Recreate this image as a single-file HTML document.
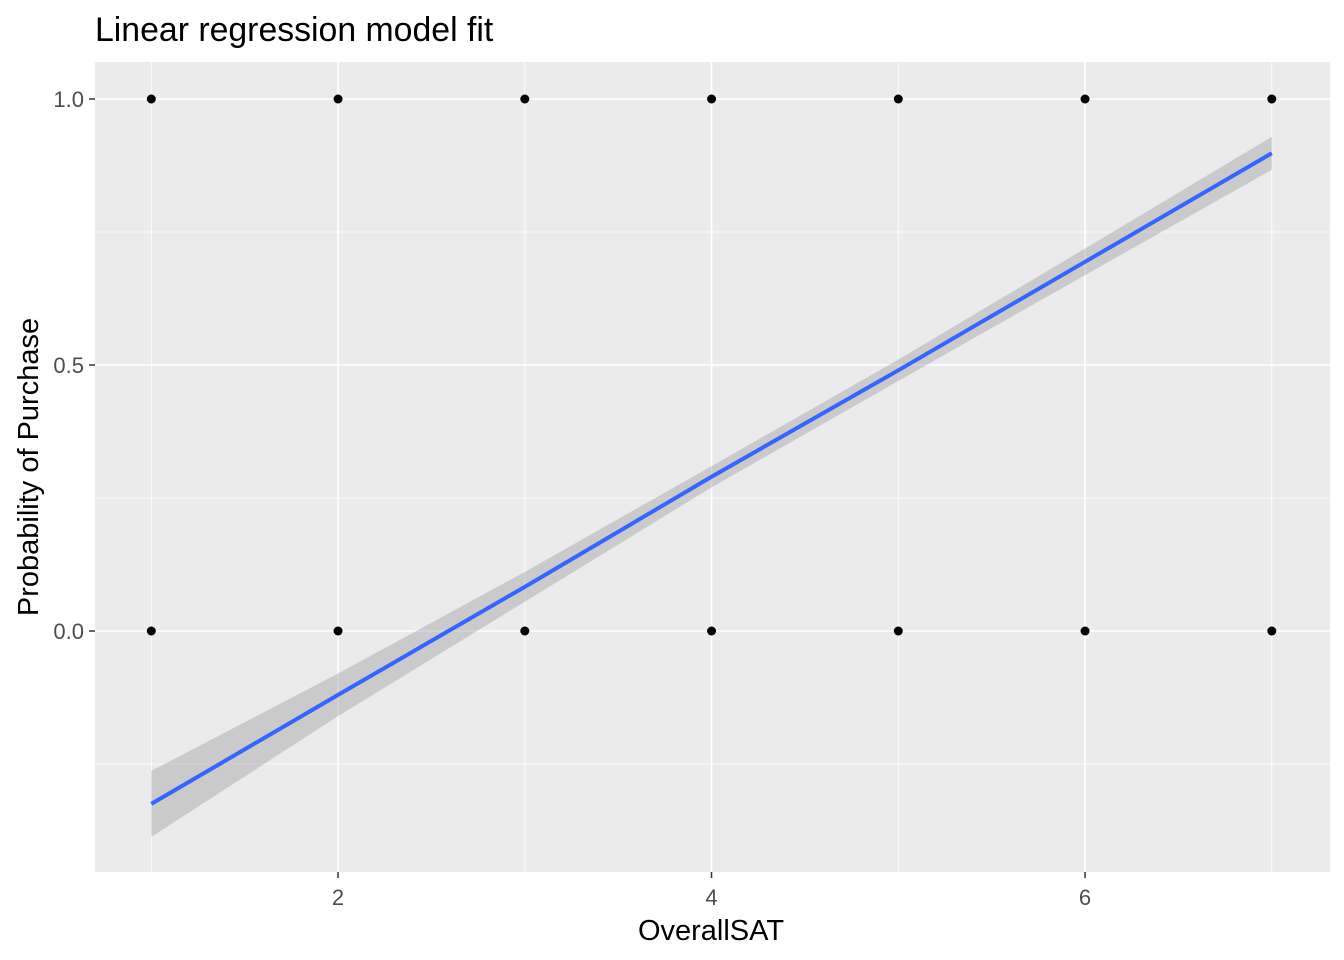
<!DOCTYPE html>
<html><head><meta charset="utf-8"><style>
body{margin:0;background:#fff;}
svg{display:block;font-family:"Liberation Sans",sans-serif;}
</style></head><body>
<svg id="chart" width="1344" height="960">
<text x="95" y="41" font-size="33.8" fill="#000">Linear regression model fit</text>
<rect x="95" y="62" width="1235" height="810" fill="#ebebeb"/>
<g id="grid"></g><g id="band"></g><g id="line"></g><g id="pts"></g><g id="axes"></g>
<text x="711" y="940" font-size="29" text-anchor="middle">OverallSAT</text>
<text transform="translate(38,467) rotate(-90)" font-size="29" text-anchor="middle">Probability of Purchase</text>
</svg>
<script>
const xTicks=[2,4,6];
const xMinor=[1,3,5,7];
const yTicks=[0,0.5,1];
const yTickLabels=["0.0","0.5","1.0"];
const yMinor=[-0.25,0.25,0.75];
const fitX=[1,2,3,4,5,6,7];
const fitY=[-0.325,-0.12,0.083,0.29,0.49,0.694,0.898];
const fitSE=[0.062,0.04,0.028,0.02,0.02,0.025,0.031];
const ptX=[1,2,3,4,5,6,7,1,2,3,4,5,6,7];
const ptY=[1,1,1,1,1,1,1,0,0,0,0,0,0,0];
const NS="http://www.w3.org/2000/svg";
const sx=v=>151.3+(v-1)*186.75;
const sy=v=>631-v*532;
function mk(t,a,p){const e=document.createElementNS(NS,t);for(const k in a)e.setAttribute(k,a[k]);p.appendChild(e);return e;}
const g=document.getElementById('grid');
yMinor.forEach(v=>{const e=mk('line',{x1:95,x2:1330,y1:sy(v),y2:sy(v),stroke:'#fff','stroke-width':0.8},g);

});
xMinor.forEach(v=>{const e=mk('line',{x1:sx(v),x2:sx(v),y1:62,y2:872,stroke:'#fff','stroke-width':0.8},g);

});
const ax=document.getElementById('axes');
yTicks.forEach((v,i)=>{const e=mk('line',{x1:95,x2:1330,y1:sy(v),y2:sy(v),stroke:'#fff','stroke-width':1.6},g);


mk('line',{x1:89,x2:95,y1:sy(v),y2:sy(v),stroke:'#333','stroke-width':1.5},ax);
const t=mk('text',{x:84,y:sy(v)+8,'font-size':22,fill:'#4d4d4d','text-anchor':'end'},ax);t.textContent=yTickLabels[i];

});
xTicks.forEach(v=>{const e=mk('line',{x1:sx(v),x2:sx(v),y1:62,y2:872,stroke:'#fff','stroke-width':1.6},g);


mk('line',{x1:sx(v),x2:sx(v),y1:872,y2:878,stroke:'#333','stroke-width':1.5},ax);
const t=mk('text',{x:sx(v),y:905,'font-size':22,fill:'#4d4d4d','text-anchor':'middle'},ax);t.textContent=v;

});
let up=fitX.map((x,i)=>sx(x)+','+sy(fitY[i]+fitSE[i]));
let lo=fitX.map((x,i)=>sx(x)+','+sy(fitY[i]-fitSE[i])).reverse();
const b=mk('polygon',{points:up.concat(lo).join(' '),fill:'#999','fill-opacity':0.4},document.getElementById('band'));


const l=mk('polyline',{points:fitX.map((x,i)=>sx(x)+','+sy(fitY[i])).join(' '),fill:'none',stroke:'#3366ff','stroke-width':4},document.getElementById('line'));


ptX.forEach((x,i)=>{const c=mk('circle',{cx:sx(x),cy:sy(ptY[i]),r:4.5,fill:'#000'},document.getElementById('pts'));

});
</script>
</body></html>
